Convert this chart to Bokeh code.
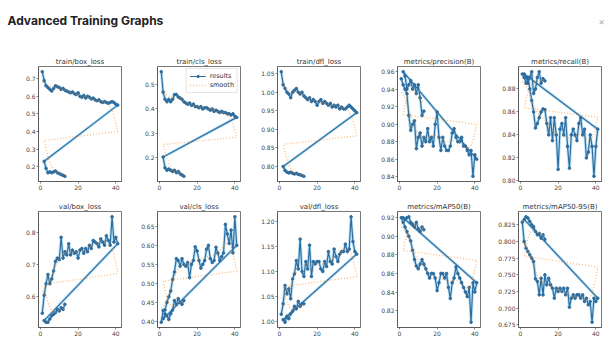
import numpy as np
from bokeh.plotting import figure
from bokeh.layouts import column, row
from bokeh.models import FixedTicker, PrintfTickFormatter, Range1d, Label, Legend, LegendItem
from bokeh.embed import file_html
from bokeh.resources import INLINE

HEADER = "Advanced Training Graphs"

EPOCHS_RUN1 = [1, 2, 3, 4, 5, 6, 7, 8, 9, 10, 11, 12, 13, 14, 15, 16, 17, 18, 19, 20,
               21, 22, 23, 24, 25, 26, 27, 28, 29, 30, 31, 32, 33, 34, 35, 36, 37, 38, 39, 40, 41]
EPOCHS_RUN2 = [2, 3, 4, 5, 6, 7, 8, 9, 10, 11, 12, 13]
X_TICKS = [0, 20, 40]

TITLES = ["train/box_loss", "train/cls_loss", "train/dfl_loss", "metrics/precision(B)", "metrics/recall(B)",
          "val/box_loss", "val/cls_loss", "val/dfl_loss", "metrics/mAP50(B)", "metrics/mAP50-95(B)"]

box_loss_run1 = [0.74, 0.69, 0.66, 0.65, 0.64, 0.63, 0.645, 0.66, 0.655, 0.65, 0.64, 0.645, 0.635, 0.63, 0.625,
                 0.62, 0.625, 0.615, 0.61, 0.62, 0.60, 0.595, 0.605, 0.59, 0.60, 0.595, 0.585, 0.59, 0.58, 0.575,
                 0.58, 0.57, 0.565, 0.57, 0.565, 0.56, 0.565, 0.57, 0.565, 0.555, 0.55]
box_loss_run2 = [0.23, 0.19, 0.165, 0.17, 0.165, 0.17, 0.175, 0.165, 0.16, 0.155, 0.15, 0.145]

cls_loss_run1 = [0.555, 0.47, 0.44, 0.43, 0.44, 0.43, 0.44, 0.46, 0.46, 0.45, 0.445, 0.44, 0.43, 0.425, 0.42,
                 0.425, 0.415, 0.42, 0.41, 0.41, 0.405, 0.41, 0.40, 0.405, 0.405, 0.40, 0.395, 0.40, 0.39, 0.395,
                 0.39, 0.385, 0.39, 0.385, 0.385, 0.38, 0.38, 0.375, 0.38, 0.37, 0.365]
cls_loss_run2 = [0.20, 0.155, 0.145, 0.15, 0.145, 0.14, 0.145, 0.135, 0.14, 0.13, 0.125, 0.12]

dfl_loss_run1 = [1.055, 1.02, 1.01, 1.00, 0.995, 0.985, 1.0, 1.005, 1.01, 1.0, 0.995, 1.0, 0.99, 0.985, 0.98,
                 0.985, 0.975, 0.98, 0.975, 0.965, 0.975, 0.98, 0.97, 0.975, 0.97, 0.965, 0.97, 0.96, 0.965, 0.96,
                 0.965, 0.955, 0.96, 0.955, 0.955, 0.96, 0.965, 0.96, 0.955, 0.95, 0.945]
dfl_loss_run2 = [0.80, 0.79, 0.785, 0.783, 0.785, 0.782, 0.78, 0.782, 0.779, 0.778, 0.776, 0.774]

precision_run1 = [0.952, 0.945, 0.94, 0.935, 0.91, 0.893, 0.90, 0.904, 0.872, 0.885, 0.89, 0.875, 0.885, 0.88,
                  0.895, 0.88, 0.885, 0.875, 0.90, 0.914, 0.885, 0.87, 0.885, 0.875, 0.87, 0.87, 0.875, 0.89,
                  0.895, 0.885, 0.88, 0.88, 0.885, 0.875, 0.875, 0.87, 0.865, 0.87, 0.8405, 0.865, 0.86]
precision_run2 = [0.96, 0.955, 0.94, 0.945, 0.95, 0.94, 0.945, 0.935, 0.945, 0.93, 0.91, 0.915]

recall_run1 = [0.893, 0.89, 0.885, 0.89, 0.88, 0.87, 0.86, 0.846, 0.85, 0.855, 0.86, 0.8626, 0.862, 0.85, 0.84,
               0.855, 0.835, 0.855, 0.84, 0.81, 0.845, 0.85, 0.84, 0.855, 0.83, 0.811, 0.84, 0.845, 0.84, 0.835,
               0.85, 0.855, 0.84, 0.845, 0.82, 0.825, 0.84, 0.83, 0.804, 0.83, 0.845]
recall_run2 = [0.893, 0.89, 0.885, 0.89, 0.895, 0.876, 0.88, 0.89, 0.895, 0.885, 0.889, 0.887]

val_box_run1 = [0.548, 0.604, 0.64, 0.669, 0.64, 0.655, 0.68, 0.71, 0.72, 0.715, 0.785, 0.72, 0.74, 0.73, 0.765,
                0.73, 0.745, 0.735, 0.74, 0.72, 0.745, 0.75, 0.735, 0.75, 0.74, 0.76, 0.75, 0.775, 0.77, 0.765,
                0.755, 0.78, 0.77, 0.76, 0.79, 0.775, 0.76, 0.849, 0.77, 0.785, 0.765]
val_box_run2 = [0.525, 0.52, 0.52, 0.53, 0.54, 0.545, 0.55, 0.56, 0.555, 0.565, 0.56, 0.576]

val_cls_run1 = [0.398, 0.429, 0.43, 0.45, 0.465, 0.48, 0.51, 0.53, 0.565, 0.56, 0.545, 0.565, 0.55, 0.545, 0.555,
                0.515, 0.55, 0.56, 0.596, 0.585, 0.56, 0.54, 0.55, 0.56, 0.59, 0.60, 0.565, 0.555, 0.56, 0.595,
                0.58, 0.56, 0.57, 0.58, 0.655, 0.63, 0.605, 0.64, 0.58, 0.675, 0.60]
val_cls_run2 = [0.407, 0.42, 0.415, 0.405, 0.42, 0.43, 0.455, 0.445, 0.46, 0.45, 0.445, 0.455]

val_dfl_run1 = [1.014, 1.035, 1.072, 1.055, 1.065, 1.045, 1.085, 1.095, 1.122, 1.105, 1.165, 1.10, 1.09, 1.12,
                1.105, 1.153, 1.09, 1.12, 1.115, 1.12, 1.12, 1.105, 1.10, 1.12, 1.11, 1.14, 1.12, 1.115, 1.145,
                1.13, 1.12, 1.135, 1.14, 1.14, 1.155, 1.14, 1.145, 1.21, 1.16, 1.14, 1.135]
val_dfl_run2 = [1.003, 0.998, 1.01, 1.005, 1.015, 1.02, 1.03, 1.025, 1.04, 1.03, 1.035, 1.035]

map50_run1 = [0.92, 0.915, 0.91, 0.905, 0.90, 0.895, 0.885, 0.875, 0.868, 0.865, 0.87, 0.875, 0.87, 0.865, 0.86,
              0.855, 0.86, 0.86, 0.855, 0.8415, 0.85, 0.86, 0.86, 0.855, 0.86, 0.845, 0.833, 0.85, 0.855, 0.867,
              0.86, 0.855, 0.85, 0.845, 0.84, 0.835, 0.845, 0.8075, 0.85, 0.84, 0.85]
map50_run2 = [0.92, 0.918, 0.92, 0.921, 0.915, 0.913, 0.91, 0.915, 0.908, 0.905, 0.91, 0.907]

map5095_run1 = [0.829, 0.80, 0.79, 0.785, 0.78, 0.775, 0.77, 0.744, 0.74, 0.72, 0.745, 0.72, 0.75, 0.735, 0.745,
                0.735, 0.73, 0.715, 0.73, 0.725, 0.73, 0.725, 0.73, 0.72, 0.73, 0.7015, 0.715, 0.72, 0.715, 0.72,
                0.72, 0.715, 0.72, 0.71, 0.715, 0.705, 0.71, 0.679, 0.715, 0.71, 0.715]
map5095_run2 = [0.833, 0.837, 0.835, 0.83, 0.825, 0.822, 0.815, 0.81, 0.812, 0.805, 0.81, 0.803]

RUN1 = [box_loss_run1, cls_loss_run1, dfl_loss_run1, precision_run1, recall_run1,
        val_box_run1, val_cls_run1, val_dfl_run1, map50_run1, map5095_run1]
RUN2 = [box_loss_run2, cls_loss_run2, dfl_loss_run2, precision_run2, recall_run2,
        val_box_run2, val_cls_run2, val_dfl_run2, map50_run2, map5095_run2]

Y_TICKS = [
    [0.2, 0.3, 0.4, 0.5, 0.6, 0.7],
    [0.2, 0.3, 0.4, 0.5],
    [0.80, 0.85, 0.90, 0.95, 1.00, 1.05],
    [0.84, 0.86, 0.88, 0.90, 0.92, 0.94, 0.96],
    [0.80, 0.82, 0.84, 0.86, 0.88],
    [0.6, 0.7, 0.8],
    [0.40, 0.45, 0.50, 0.55, 0.60, 0.65],
    [1.00, 1.05, 1.10, 1.15, 1.20],
    [0.82, 0.84, 0.86, 0.88, 0.90, 0.92],
    [0.675, 0.700, 0.725, 0.750, 0.775, 0.800, 0.825],
]
Y_FORMATS = ["%.1f", "%.1f", "%.2f", "%.2f", "%.2f", "%.1f", "%.2f", "%.2f", "%.2f", "%.3f"]
LEGEND_LABELS = ["results", "smooth"]


def gaussian_smooth(y, sigma=3.0, truncate=4.0):
    r = int(truncate * sigma + 0.5)
    k = np.exp(-0.5 * (np.arange(-r, r + 1) / sigma) ** 2)
    k /= k.sum()
    ypad = np.pad(np.asarray(y, dtype=float), r, mode="symmetric")
    return np.convolve(ypad, k, mode="valid")


FONT = "DejaVu Sans"
BLUE = "#2f6d9e"
HALO = "#a6daf6"
ORANGE = "#ff7f0e"
AX = "#555555"

# per-column border sizes (left, right) so frames sit where the reference has them
COL_BORDERS = [(38, 2), (34, 2), (35, 2), (35, 2), (36, 9)]
FRAME_W = 83
ROW_BORDERS = [(16, 15, 115), (15, 14, 116)]  # top, bottom, frame height

figs = []
for i in range(10):
    r_idx, c_idx = divmod(i, 5)
    x = EPOCHS_RUN1 + EPOCHS_RUN2
    y = RUN1[i] + RUN2[i]
    ys = gaussian_smooth(y)
    xlo, xhi = min(x), max(x)
    xm = 0.05 * (xhi - xlo)
    ylo, yhi = min(y), max(y)
    ym = 0.05 * (yhi - ylo)

    lb, rb = COL_BORDERS[c_idx]
    tb, bb, fh = ROW_BORDERS[r_idx]
    w = lb + FRAME_W + rb
    h = tb + fh + bb

    p = figure(width=w, height=h, x_range=Range1d(xlo - xm, xhi + xm), y_range=Range1d(ylo - ym, yhi + ym),
               output_backend="svg", toolbar_location=None, title=TITLES[i],
               min_border_left=lb, min_border_right=rb, min_border_top=tb, min_border_bottom=bb)
    p.title.text_font = FONT
    p.title.text_font_size = "7px"
    p.title.text_font_style = "normal"
    p.title.text_color = "#333333"
    p.title.align = "center"
    p.title.standoff = 1
    p.title.offset = 0

    p.line(x, y, line_width=3.0, color=HALO, alpha=0.75)
    ln = p.line(x, y, line_width=1.2, color=BLUE)
    mk = p.scatter(x, y, size=2.6, color=BLUE)
    sm = p.line(x, list(ys), line_width=1.3, color=ORANGE, alpha=0.55, line_dash="1 2")

    p.xgrid.visible = False
    p.ygrid.visible = False
    p.outline_line_color = AX
    p.outline_line_width = 0.8
    p.xaxis.ticker = FixedTicker(ticks=X_TICKS)
    p.yaxis.ticker = FixedTicker(ticks=Y_TICKS[i])
    p.yaxis.formatter = PrintfTickFormatter(format=Y_FORMATS[i])
    for ax in (p.xaxis[0], p.yaxis[0]):
        ax.axis_line_color = AX
        ax.axis_line_width = 0.8
        ax.major_tick_line_color = AX
        ax.major_tick_line_width = 0.7
        ax.major_tick_out = 2
        ax.major_tick_in = 0
        ax.minor_tick_line_color = None
        ax.major_label_text_font = FONT
        ax.major_label_text_font_size = "6px"
        ax.major_label_text_color = "#444444"
        ax.major_label_standoff = 1

    if i == 1:
        leg = Legend(items=[LegendItem(label=LEGEND_LABELS[0], renderers=[ln, mk]),
                            LegendItem(label=LEGEND_LABELS[1], renderers=[sm])],
                     location="top_right")
        leg.label_text_font = FONT
        leg.label_text_font_size = "6.5px"
        leg.label_text_color = "#333333"
        leg.glyph_width = 16
        leg.glyph_height = 6
        leg.label_height = 6
        leg.label_standoff = 4
        leg.spacing = 1
        leg.padding = 3
        leg.margin = 2
        leg.border_line_color = "#cccccc"
        leg.background_fill_alpha = 0.85
        p.add_layout(leg)
    figs.append(p)

HEADER_H = 50
header = figure(width=610, height=HEADER_H, output_backend="svg", toolbar_location=None,
                x_range=Range1d(0, 610), y_range=Range1d(0, HEADER_H), min_border=0)
header.axis.visible = False
header.xgrid.visible = False
header.ygrid.visible = False
header.outline_line_color = None
header.add_layout(Label(x=7, y=HEADER_H - 20, x_units="screen", y_units="screen", text=HEADER,
                        text_font="Inter", text_font_size="12px", text_font_style="bold",
                        text_color="#222222", text_baseline="middle"))
header.add_layout(Label(x=601, y=HEADER_H - 20, x_units="screen", y_units="screen", text="×",
                        text_font="Inter", text_font_size="10px", text_color="#aaaaaa",
                        text_baseline="middle", text_align="center"))

layout = column(header, row(*figs[:5]), row(*figs[5:]))
open("out.html", "w").write(file_html(layout, INLINE))
